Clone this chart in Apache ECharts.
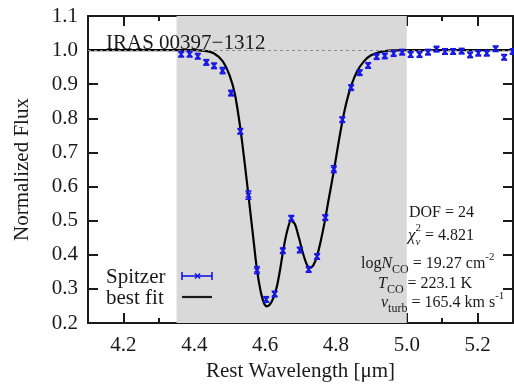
<!DOCTYPE html>
<html>
<head>
<meta charset="utf-8">
<script src="https://cdn.jsdelivr.net/npm/echarts@6/dist/echarts.min.js"></script>
<style>
  html, body { margin: 0; padding: 0; background: #ffffff; }
  #chart { width: 514px; height: 387px; }
</style>
</head>
<body>
<div id="chart"></div>
<script>
// Spitzer spectrum across the 4.67 µm CO absorption band
const wavelength = [
  4.363, 4.387, 4.410, 4.434, 4.456, 4.480, 4.504, 4.530, 4.553, 4.577,
  4.603, 4.627, 4.650, 4.674, 4.698, 4.723, 4.747, 4.770, 4.794, 4.818,
  4.843, 4.867, 4.891, 4.915, 4.938, 4.963, 4.987, 5.011, 5.036, 5.060,
  5.084, 5.108, 5.131, 5.155, 5.179, 5.202, 5.226, 5.251, 5.275, 5.299
];
const flux = [
  0.988, 0.988, 0.982, 0.964, 0.954, 0.940, 0.874, 0.762, 0.575, 0.355,
  0.269, 0.285, 0.412, 0.507, 0.414, 0.357, 0.395, 0.509, 0.651, 0.796,
  0.890, 0.934, 0.955, 0.981, 0.983, 0.990, 0.994, 0.987, 0.987, 0.994,
  1.003, 0.996, 0.996, 0.997, 0.986, 0.991, 0.991, 1.004, 0.979, 0.996
];
const fluxErr = [
  0.008, 0.008, 0.008, 0.008, 0.008, 0.009, 0.008, 0.008, 0.012, 0.010,
  0.008, 0.008, 0.008, 0.008, 0.008, 0.008, 0.008, 0.008, 0.010, 0.008,
  0.008, 0.008, 0.008, 0.008, 0.008, 0.008, 0.008, 0.008, 0.008, 0.008,
  0.008, 0.008, 0.008, 0.008, 0.008, 0.008, 0.008, 0.008, 0.008, 0.008
];

// Best-fit slab model
const fitWavelength = [
  4.10, 4.30, 4.40, 4.43, 4.455, 4.48, 4.50, 4.515, 4.53, 4.542,
  4.553, 4.565, 4.577, 4.588, 4.597, 4.605, 4.614, 4.624, 4.634, 4.643,
  4.651, 4.662, 4.673, 4.684, 4.695, 4.706, 4.716, 4.726, 4.736, 4.746,
  4.757, 4.768, 4.780, 4.794, 4.806, 4.818, 4.830, 4.843, 4.860, 4.879,
  4.898, 4.926, 4.960, 5.00, 5.30
];
const fitFlux = [
  1.000, 1.000, 1.000, 0.998, 0.991, 0.968, 0.925, 0.870, 0.772, 0.672,
  0.574, 0.465, 0.357, 0.290, 0.258, 0.249, 0.255, 0.275, 0.310, 0.360,
  0.412, 0.468, 0.500, 0.490, 0.452, 0.408, 0.376, 0.361, 0.369, 0.394,
  0.440, 0.495, 0.565, 0.645, 0.720, 0.790, 0.848, 0.895, 0.938, 0.967,
  0.984, 0.995, 0.999, 1.000, 1.000
];

const fitWindow = [4.35, 5.0];
const continuumLevel = 1.0;

const xRange = [4.1, 5.3];
const xMajorTicks = [4.2, 4.4, 4.6, 4.8, 5.0, 5.2];
const xMinorTicks = [4.1, 4.3, 4.5, 4.7, 4.9, 5.1, 5.3];
const yRange = [0.2, 1.1];
const yStep = 0.1;

const sourceName = 'IRAS 00397\u22121312';
const legendLabels = ['Spitzer', 'best fit'];

const SERIF = '"Liberation Serif", "Times New Roman", serif';
const INK = '#1a1a1a';
const BLUE = '#1616e6';

const chart = echarts.init(document.getElementById('chart'), null, { renderer: 'canvas' });

// Text width helper for composing sub/superscripted annotation lines
const measureCtx = document.createElement('canvas').getContext('2d');
function textWidth(t, size, italic) {
  measureCtx.font = (italic ? 'italic ' : '') + size + 'px ' + SERIF;
  return measureCtx.measureText(t).width;
}
function composeLine(x0, yMid, parts) {
  const out = [];
  let cursor = x0;
  let stackStart = x0, stackWidth = 0;
  parts.forEach(p => {
    const size = p.size || 16;
    const wdt = textWidth(p.t, size, p.italic);
    let px;
    if (p.stack) {
      px = stackStart;
      stackWidth = Math.max(stackWidth, wdt);
      cursor = stackStart + stackWidth;
    } else {
      px = cursor;
      stackStart = cursor;
      stackWidth = wdt;
      cursor += wdt;
    }
    out.push({
      type: 'text',
      x: px,
      y: yMid + (p.dy || 0),
      z: 50,
      style: {
        text: p.t,
        font: (p.italic ? 'italic ' : '') + size + 'px ' + SERIF,
        fill: INK,
        align: 'left',
        verticalAlign: 'middle',
        textAlign: 'left',
        textVerticalAlign: 'middle'
      }
    });
  });
  return out;
}

function xAxisDef(position, ticks, len, showLine, showLabel) {
  return {
    type: 'value',
    position: position,
    min: xRange[0],
    max: xRange[1],
    axisLine: { show: showLine, onZero: false, lineStyle: { color: INK, width: 2 } },
    axisTick: { show: true, inside: true, length: len, customValues: ticks, lineStyle: { color: INK, width: 2 } },
    axisLabel: {
      show: showLabel,
      customValues: ticks,
      formatter: v => v.toFixed(1),
      fontFamily: SERIF,
      fontSize: 21,
      color: INK,
      margin: 12
    },
    splitLine: { show: false }
  };
}

const xAxes = [
  Object.assign(xAxisDef('bottom', xMajorTicks, 10, true, true), {
    name: 'Rest Wavelength [\u03bcm]',
    nameLocation: 'middle',
    nameGap: 38,
    nameTextStyle: { fontFamily: SERIF, fontSize: 21, color: INK }
  }),
  xAxisDef('bottom', xMinorTicks, 5, false, false),
  xAxisDef('top', xMajorTicks, 10, true, false),
  xAxisDef('top', xMinorTicks, 5, false, false)
];

function yAxisDef(position, showLabel) {
  return {
    type: 'value',
    position: position,
    min: yRange[0],
    max: yRange[1],
    interval: yStep,
    axisLine: { show: true, onZero: false, lineStyle: { color: INK, width: 2 } },
    axisTick: { show: true, inside: true, length: 10, lineStyle: { color: INK, width: 2 } },
    axisLabel: {
      show: showLabel,
      formatter: v => v.toFixed(1),
      fontFamily: SERIF,
      fontSize: 21,
      color: INK,
      margin: 10
    },
    splitLine: { show: false }
  };
}

const yAxes = [
  Object.assign(yAxisDef('left', true), {
    name: 'Normalized Flux',
    nameLocation: 'middle',
    nameGap: 55,
    nameRotate: 90,
    nameTextStyle: { fontFamily: SERIF, fontSize: 21, color: INK }
  }),
  yAxisDef('right', false)
];

const obsData = wavelength.map((w, i) => [w, flux[i], fluxErr[i]]);
const fitData = fitWavelength.map((w, i) => [w, fitFlux[i]]);

function renderErrorBar(params, api) {
  const x = api.value(0), y = api.value(1), e = api.value(2);
  const top = api.coord([x, y + e]);
  const bot = api.coord([x, y - e]);
  const mid = api.coord([x, y]);
  const cap = 3, m = 2.5;
  const st = { stroke: BLUE, lineWidth: 1.6 };
  return {
    type: 'group',
    children: [
      { type: 'line', shape: { x1: top[0], y1: top[1], x2: bot[0], y2: bot[1] }, style: st },
      { type: 'line', shape: { x1: top[0] - cap, y1: top[1], x2: top[0] + cap, y2: top[1] }, style: st },
      { type: 'line', shape: { x1: bot[0] - cap, y1: bot[1], x2: bot[0] + cap, y2: bot[1] }, style: st },
      { type: 'line', shape: { x1: mid[0] - m, y1: mid[1] - m, x2: mid[0] + m, y2: mid[1] + m }, style: st },
      { type: 'line', shape: { x1: mid[0] - m, y1: mid[1] + m, x2: mid[0] + m, y2: mid[1] - m }, style: st }
    ]
  };
}

// Legend samples and fit-statistics annotation
const legendX = 106, legendSampleX = 182, legendSampleW = 30;
const legendY = [277, 298];
const graphics = [
  {
    type: 'text', x: 106, y: 43, z: 50,
    style: { text: sourceName, font: '21px ' + SERIF, fill: INK, align: 'left', verticalAlign: 'middle', textAlign: 'left', textVerticalAlign: 'middle' }
  },
  {
    type: 'text', x: legendX, y: legendY[0], z: 50,
    style: { text: legendLabels[0], font: '21px ' + SERIF, fill: INK, align: 'left', verticalAlign: 'middle', textAlign: 'left', textVerticalAlign: 'middle' }
  },
  {
    type: 'text', x: legendX, y: legendY[1], z: 50,
    style: { text: legendLabels[1], font: '21px ' + SERIF, fill: INK, align: 'left', verticalAlign: 'middle', textAlign: 'left', textVerticalAlign: 'middle' }
  },
  { type: 'line', z: 50, shape: { x1: legendSampleX, y1: legendY[0] - 1, x2: legendSampleX + legendSampleW, y2: legendY[0] - 1 }, style: { stroke: BLUE, lineWidth: 1.6 } },
  { type: 'line', z: 50, shape: { x1: legendSampleX, y1: legendY[0] - 5, x2: legendSampleX, y2: legendY[0] + 3 }, style: { stroke: BLUE, lineWidth: 1.6 } },
  { type: 'line', z: 50, shape: { x1: legendSampleX + legendSampleW, y1: legendY[0] - 5, x2: legendSampleX + legendSampleW, y2: legendY[0] + 3 }, style: { stroke: BLUE, lineWidth: 1.6 } },
  { type: 'line', z: 50, shape: { x1: legendSampleX + 13, y1: legendY[0] - 3.5, x2: legendSampleX + 18, y2: legendY[0] + 1.5 }, style: { stroke: BLUE, lineWidth: 1.6 } },
  { type: 'line', z: 50, shape: { x1: legendSampleX + 13, y1: legendY[0] + 1.5, x2: legendSampleX + 18, y2: legendY[0] - 3.5 }, style: { stroke: BLUE, lineWidth: 1.6 } },
  { type: 'line', z: 50, shape: { x1: legendSampleX, y1: legendY[1] - 1, x2: legendSampleX + legendSampleW, y2: legendY[1] - 1 }, style: { stroke: INK, lineWidth: 2.2 } }
]
  .concat(composeLine(409, 213, [{ t: 'DOF = 24' }]))
  .concat(composeLine(408, 236, [
    { t: '\u03c7', italic: true, size: 17 },
    { t: '2', size: 11, dy: -8 },
    { t: '\u03bd', italic: true, size: 11, dy: 6, stack: true },
    { t: ' = 4.821' }
  ]))
  .concat(composeLine(361, 264, [
    { t: 'log' },
    { t: 'N', italic: true },
    { t: 'CO', size: 12, dy: 6 },
    { t: ' = 19.27 cm' },
    { t: '-2', size: 11, dy: -7 }
  ]))
  .concat(composeLine(378, 284, [
    { t: 'T', italic: true },
    { t: 'CO', size: 12, dy: 6 },
    { t: ' = 223.1 K' }
  ]))
  .concat(composeLine(381, 303, [
    { t: 'v', italic: true },
    { t: 'turb', size: 12, dy: 6 },
    { t: ' = 165.4 km s' },
    { t: '-1', size: 11, dy: -7 }
  ]));

const option = {
  animation: false,
  backgroundColor: '#ffffff',
  grid: { left: 88, right: 1, top: 16, bottom: 60, containLabel: false },
  xAxis: xAxes,
  yAxis: yAxes,
  series: [
    {
      name: 'fit window',
      type: 'line',
      data: [],
      z: 1,
      silent: true,
      markArea: {
        silent: true,
        itemStyle: { color: '#d9d9d9' },
        data: [[{ xAxis: fitWindow[0] }, { xAxis: fitWindow[1] }]]
      },
      markLine: {
        silent: true,
        symbol: 'none',
        label: { show: false },
        lineStyle: { color: '#8a8a8a', type: [3, 3], width: 1 },
        data: [{ yAxis: continuumLevel }]
      }
    },
    {
      name: legendLabels[1],
      type: 'line',
      data: fitData,
      z: 4,
      smooth: 0.25,
      showSymbol: false,
      lineStyle: { color: '#000000', width: 2.2 }
    },
    {
      name: legendLabels[0],
      type: 'custom',
      data: obsData,
      z: 5,
      renderItem: renderErrorBar,
      encode: { x: 0, y: 1 }
    }
  ],
  graphic: { elements: graphics }
};

chart.setOption(option);
</script>
</body>
</html>
